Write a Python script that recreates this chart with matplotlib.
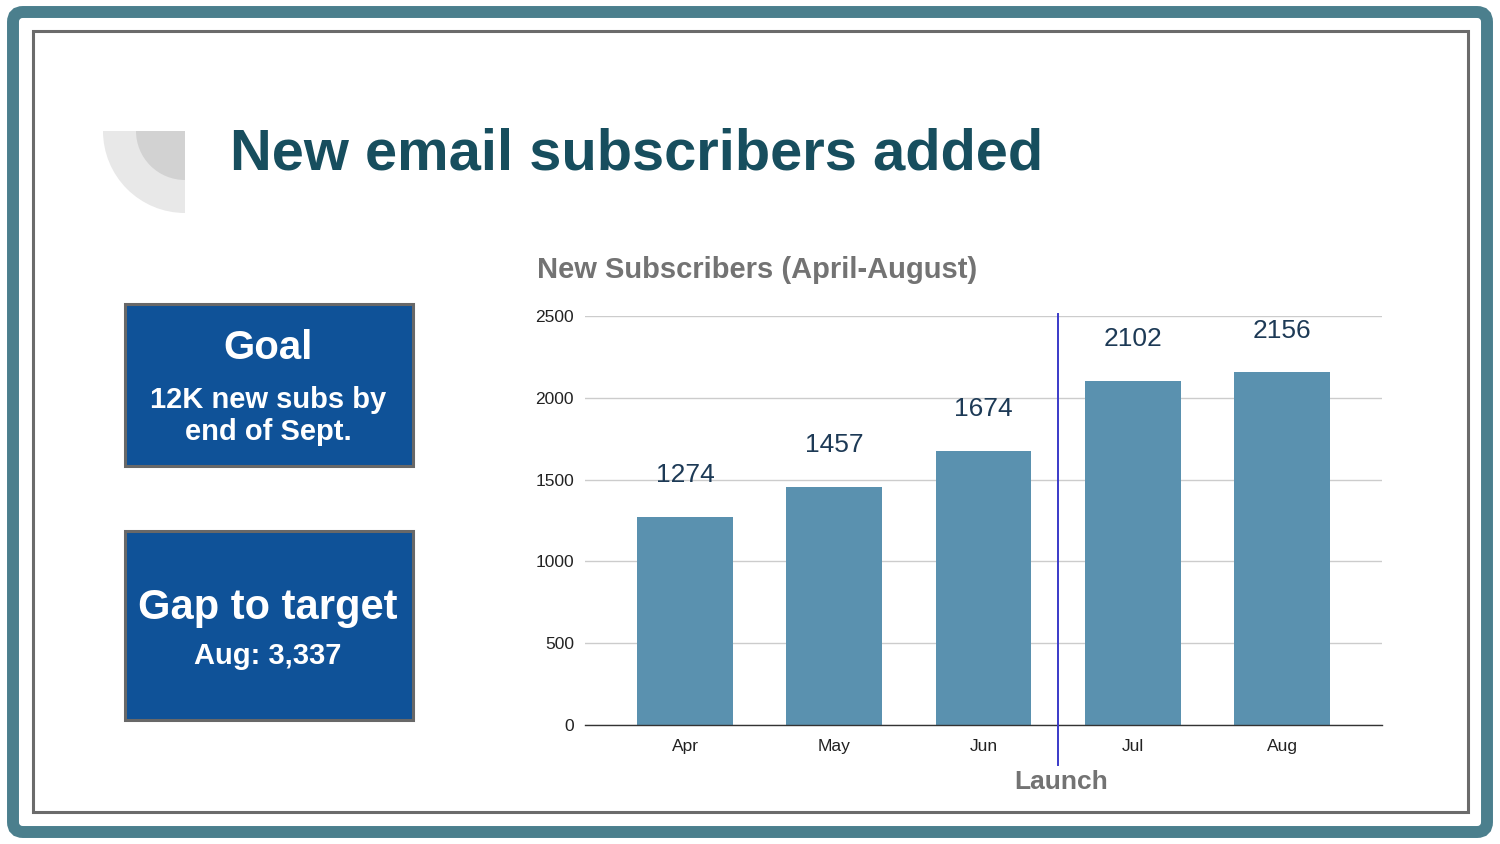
#!/usr/bin/env python3

import matplotlib.pyplot as plt
from matplotlib.patches import FancyBboxPatch, Rectangle, Wedge

# data
months = ["Apr", "May", "Jun", "Jul", "Aug"]
new_subs = [1274, 1457, 1674, 2102, 2156]
y_ticks = [0, 500, 1000, 1500, 2000, 2500]
launch_after = 2.5  # between Jun and Jul

page_title = "New email subscribers added"
chart_title = "New Subscribers (April-August)"
goal_head = "Goal"
goal_body = "12K new subs by\nend of Sept."
gap_head = "Gap to target"
gap_body = "Aug: 3,337"

TEAL = "#4b7f8d"
TITLE_COLOR = "#174e5e"
BOX_BLUE = "#0f5298"
BAR_COLOR = "#5a91af"
LABEL_COLOR = "#1d3a56"
GREY_TEXT = "#737373"

plt.rcParams["font.family"] = ["Liberation Sans", "DejaVu Sans"]


def main() -> None:
    fig = plt.figure(figsize=(15, 8.44), dpi=100)
    fig.patch.set_facecolor("white")

    # background layer in pixel coordinates
    bg = fig.add_axes([0, 0, 1, 1], zorder=0)
    bg.set_xlim(0, 1500)
    bg.set_ylim(844, 0)
    bg.axis("off")

    bg.add_patch(FancyBboxPatch((13, 12), 1474, 820,
                                boxstyle="round,pad=0,rounding_size=10",
                                fill=False, edgecolor=TEAL, linewidth=8.6))
    bg.add_patch(Rectangle((32.5, 30.5), 1435, 781, fill=False,
                           edgecolor="#6b6b6b", linewidth=2.2))

    # decorative quarter circles
    bg.add_patch(Wedge((185, 131), 82, 90, 180, facecolor="#e8e8e8", edgecolor="none"))
    bg.add_patch(Wedge((185, 131), 49, 90, 180, facecolor="#d2d2d2", edgecolor="none"))

    bg.text(230, 170, page_title, fontsize=41.7, fontweight="bold",
            color=TITLE_COLOR, ha="left", va="baseline")

    # info boxes
    for (y0, y1) in [(302, 467), (529, 721)]:
        bg.add_patch(Rectangle((124.5, y0 + 1.5), 288, y1 - y0 - 3,
                               facecolor=BOX_BLUE, edgecolor="#686868", linewidth=2.2))
    bg.text(268, 348, goal_head, fontsize=29, fontweight="bold", color="white",
            ha="center", va="center")
    bg.text(268, 416, goal_body, fontsize=21, fontweight="bold", color="white",
            ha="center", va="center", linespacing=1.2)
    bg.text(268, 619, gap_head, fontsize=30, fontweight="bold", color="white",
            ha="center", va="baseline")
    bg.text(268, 656, gap_body, fontsize=21, fontweight="bold", color="white",
            ha="center", va="center")

    bg.text(537, 270, chart_title, fontsize=21, fontweight="bold",
            color=GREY_TEXT, ha="left", va="center")

    # bar chart
    ax = fig.add_axes([585 / 1500, 1 - 725 / 844, 797 / 1500, 409 / 844], zorder=1)
    ax.patch.set_alpha(0)
    x = range(len(months))
    bars = ax.bar(x, new_subs, width=0.643, color=BAR_COLOR, zorder=2)
    for bar, val in zip(bars, new_subs):
        ax.annotate(str(val), (bar.get_x() + bar.get_width() / 2, val),
                    xytext=(0, 30), textcoords="offset points",
                    ha="center", va="center", fontsize=19, color=LABEL_COLOR)

    ax.set_xlim(-0.67, 4.67)
    ax.set_ylim(0, 2500)
    ax.set_yticks(y_ticks)
    ax.set_xticks(list(x))
    ax.set_xticklabels(months)
    ax.tick_params(axis="both", length=0, labelsize=12.5, colors="#222222")
    ax.tick_params(axis="y", pad=8)
    ax.tick_params(axis="x", pad=10)
    ax.grid(axis="y", color="#cccccc", linewidth=1, zorder=0)
    ax.set_axisbelow(True)
    for side in ["top", "right", "left"]:
        ax.spines[side].set_visible(False)
    ax.spines["bottom"].set_color("#333333")
    ax.spines["bottom"].set_linewidth(1)

    # launch marker
    ax.plot([launch_after, launch_after], [-245, 2510], color="#3a3ac8",
            linewidth=1.4, clip_on=False, zorder=3)
    ax.text(launch_after + 0.02, -350, "Launch", fontsize=19, fontweight="bold",
            color=GREY_TEXT, ha="center", va="center")

    fig.savefig("out.png", dpi=100)


if __name__ == "__main__":
    main()
